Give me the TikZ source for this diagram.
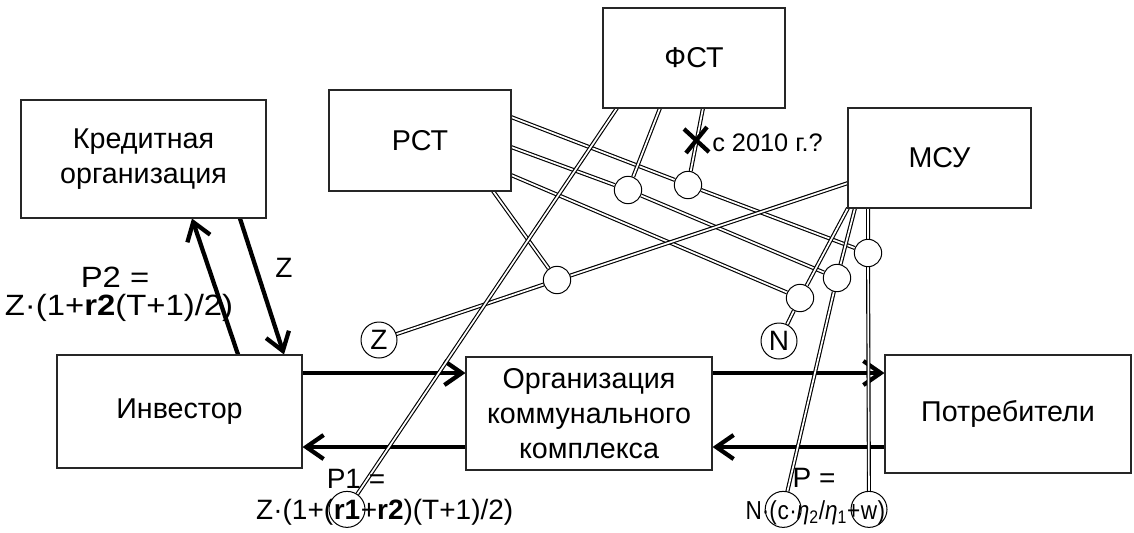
\documentclass[tikz,border=0pt]{standalone}
\usepackage{fontspec}
\setmainfont{Liberation Sans}
\usetikzlibrary{arrows.meta,calc}
\pgfdeclarelayer{arrowlayer}
\pgfdeclarelayer{linelayer}
\pgfsetlayers{arrowlayer,linelayer,main}
\begin{document}
\begin{tikzpicture}[x=0.75pt,y=-0.75pt,
  box/.style={draw=black!85,line width=0.8pt,fill=white,inner sep=0pt,align=center,font=\fontsize{21.5}{26.5}\selectfont},
  lbl/.style={inner sep=0pt,font=\fontsize{21}{25}\selectfont},
  biglbl/.style={inner sep=0pt,font=\fontsize{22}{26}\selectfont},
  smlbl/.style={inner sep=0pt,font=\fontsize{19.5}{23}\selectfont},
  arr/.style={line width=3.2pt,-{Straight Barb[length=13pt,width=18pt]}},
  dbl/.style={line width=0.85pt,double=white,double distance=1.3pt},
  jn/.style={circle,draw,line width=0.75pt,fill=white,minimum size=20.5pt,inner sep=0pt},
  lc/.style={circle,draw,line width=0.75pt,minimum size=27pt,inner sep=0pt,font=\fontsize{21}{25}\selectfont},
  xm/.style={line width=3.2pt}
]
\useasboundingbox (0,0) rectangle (1134,532);

% boxes
\node[box,minimum width=183.75pt,minimum height=88.5pt] (kred) at (143.5,159) {Кредитная\\организация};
\node[box,minimum width=136.5pt,minimum height=75.75pt] (rst) at (420,140.5) {РСТ};
\node[box,minimum width=136.5pt,minimum height=75pt] (fst) at (694,58) {ФСТ};
\node[box,minimum width=137.25pt,minimum height=75pt] (msu) at (939.5,158) {МСУ};
\node[box,minimum width=183.75pt,minimum height=84.75pt] (inv) at (179.5,411.5) {Инвестор};
\node[box,minimum width=184.5pt,minimum height=84.75pt] (org) at (589,413.5) {Организация\\коммунального\\комплекса};
\node[box,minimum width=184.5pt,minimum height=88.5pt] (cons) at (1008,414) {Потребители};

% junction circles
\node[jn] (J1) at (628,190) {};
\node[jn] (J2) at (688,185) {};
\node[jn] (J3) at (557,280) {};
\node[jn] (J4) at (868,253) {};
\node[jn] (J5) at (837,278) {};
\node[jn] (J6) at (800,298) {};

% letter circles
\node[lc] (zc) at (379,340) {Z};
\node[lc] (nc) at (779,341) {N};

% labels
\node[biglbl] (p2l) at (115,277) {\scalebox{1.12}[1]{P2 =}};
\node[biglbl] (p2f) at (119,308) {\scalebox{1.12}[1]{Z·(1+\textbf{r2}(T+1)/2)}};
\node[lbl] (zl) at (284,268) {Z};
\node[lbl] (p1l) at (356,479) {P1 =};
\node[lbl] (pl) at (814,478) {P =};

\node[lbl,anchor=base] (p1b) at (347,519) {\textbf{r1}};
\node[lbl,anchor=base east] (p1a) at (p1b.base west) {Z·(1+(};
\node[lbl,anchor=base west] (p1c) at (p1b.base east) {+\textbf{r2})(T+1)/2)};
\node[lc] (r1c) at (p1b.center) {};

\node[smlbl,anchor=base] (pd) at (869,519) {\scalebox{0.87}[1]{w}};
\node[smlbl,anchor=base east] (pc) at (pd.base west) {\scalebox{0.87}[1]{·{\itshape η}\textsubscript{2}/{\itshape η}\textsubscript{1}+}};
\node[smlbl,anchor=base east] (pb) at (pc.base west) {\scalebox{0.87}[1]{c}};
\node[smlbl,anchor=base east] (pa) at (pb.base west) {\scalebox{0.87}[1]{N·(}};
\node[smlbl,anchor=base west] (pe) at (pd.base east) {\scalebox{0.87}[1]{)}};
\node[lc] (cc) at (pb |- r1c) {};
\node[lc] (wc) at (pd |- r1c) {};

\node[lbl,anchor=west,font=\fontsize{19}{22}\selectfont] (yr) at (712,143) {с 2010 г.?};

% attachment points
\coordinate (rA) at (511,117);
\coordinate (rB) at (511,147);
\coordinate (rC) at (511,175);
\coordinate (rD) at (493,191);
\coordinate (fA) at (617,108);
\coordinate (fB) at (660,108);
\coordinate (fC) at (703,108);
\coordinate (mA) at (848,183);
\coordinate (mB) at (848,208);
\coordinate (mC) at (855,208);
\coordinate (mD) at (868,208);
\coordinate (yT) at (0,373);
\coordinate (yB) at (0,447);

% thick arrows
\begin{pgfonlayer}{arrowlayer}
\draw[arr] (inv.east |- yT) -- (org.west |- yT);
\draw[arr] (org.west |- yB) -- (inv.east |- yB);
\draw[arr] (org.east |- yT) -- (cons.west |- yT);
\draw[arr] (cons.west |- yB) -- (org.east |- yB);
\draw[arr] ($(inv.north)+(58.5,0)$) -- ($(kred.south)+(48.5,0)$);
\draw[arr] ($(kred.south)+(96.5,0)$) -- ($(inv.north)+(104.5,0)$);
\end{pgfonlayer}

% double lines
\begin{pgfonlayer}{linelayer}
\draw[dbl] (rA) -- (J2) -- (J4);
\draw[dbl] (rB) -- (J1) -- (J5);
\draw[dbl] (rC) -- (J6);
\draw[dbl] (rD) -- (J3);
\draw[dbl] (mA) -- (J3) -- (zc);
\draw[dbl] (fA) -- (r1c);
\draw[dbl] (fB) -- (J1);
\draw[dbl] (fC) -- (J2);
\draw[dbl] (mB) -- (J6) -- (nc);
\draw[dbl] (mC) -- (J5) -- (cc);
\draw[dbl] (mD) -- (J4) -- (wc);
\end{pgfonlayer}

% cross mark
\draw[xm] (684,129) -- (709,152);
\draw[xm] (686,153) -- (707,127);
\end{tikzpicture}
\end{document}
